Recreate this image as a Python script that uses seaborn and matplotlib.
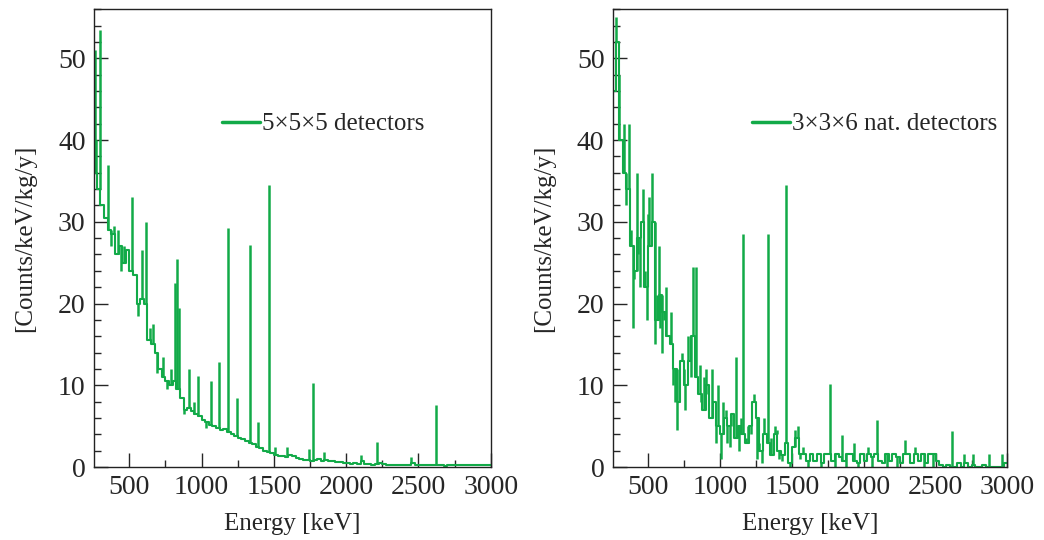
import numpy as np
import pandas as pd
import matplotlib
matplotlib.use("Agg")
import matplotlib.pyplot as plt
from matplotlib.ticker import MultipleLocator
import seaborn as sns

# 25 keV bins starting at 250 keV
bin_start = 250
bin_width = 25

# continuum, 5x5x5 detectors (counts/keV/kg/y)
cont_555 = [36, 34, 32, 30.5, 29, 28.5, 26, 27, 25, 26.5,
            24, 23.5, 20, 20.5, 20, 15.5, 15, 14, 12, 11,
            10.5, 10, 10.5, 9.5, 8.5, 7, 7.2, 6.8, 6.5, 6.2,
            5.8, 5.5, 5.2, 5.0, 4.8, 4.5, 4.6, 4.3, 4.0, 3.8,
            3.6, 3.4, 3.2, 3.0, 2.8, 2.5, 2.3, 2.0, 1.8, 1.7,
            1.5, 1.3, 1.3, 1.2, 1.5, 1.3, 1.1, 1.0, 0.9, 0.9,
            0.8, 0.9, 1.0, 0.8, 0.9, 0.7, 0.7, 0.6, 0.6, 0.5,
            0.5, 0.4, 0.5, 0.4, 0.8, 0.4, 0.4, 0.3, 0.4, 0.5,
            0.4, 0.3, 0.3, 0.3, 0.2, 0.3, 0.2, 0.3, 0.5, 0.2,
            0.2, 0.3, 0.2, 0.2, 0.3, 0.2, 0.2, 0.1, 0.2, 0.3,
            0.2, 0.2, 0.3, 0.2, 0.2, 0.3, 0.2, 0.2, 0.3, 0.2]

# narrow lines and fluctuations on top of it: energy (keV), height
peak_e_555 = [262, 270, 299, 354, 372, 395, 420, 440, 465, 521,
              560, 590, 618, 645, 666, 690, 735, 760, 790, 819,
              832, 846, 880, 916, 950, 978, 1030, 1067, 1123, 1184,
              1246, 1338, 1392, 1468, 1510, 1590, 1740, 1774, 1850, 2100,
              2210, 2450, 2619]
peak_h_555 = [51, 40, 53.5, 37, 27, 29.5, 29, 24, 27, 33,
              18.5, 26.5, 30, 17, 17.5, 11.5, 13.5, 9.5, 12, 22.5,
              25.5, 19.5, 6.5, 12, 8, 11.2, 4.8, 10.5, 12.8, 29.3,
              8.5, 27.2, 5.5, 34.5, 2.5, 2.4, 2.2, 10.3, 1.9, 1.5,
              3.1, 1.2, 7.6]

# continuum, 3x3x6 nat. detectors
cont_336 = [46, 52, 40, 36, 34, 27, 24, 28, 30, 22,
            27, 30, 18, 21, 19, 16, 15, 12, 8, 13,
            10, 13, 16, 11, 9, 7, 10, 6, 8, 5,
            4, 6, 5, 6.5, 3.5, 5, 4, 3, 5, 8,
            6, 2, 4, 3, 1.5, 4, 2, 1.5, 3, 0.5,
            2.5, 3.5, 1.6, 1.6, 0.8, 1.6, 0.8, 1.6, 0.5, 1.6,
            1.6, 0.8, 1.6, 1.2, 0.8, 1.6, 1.6, 0.8, 0.5, 1.6,
            0.8, 1.6, 1.2, 1.6, 0.8, 0.5, 1.6, 0.8, 1.6, 1.2,
            0.5, 1.6, 1.6, 0.5, 1.6, 0.8, 1.6, 0.5, 1.6, 1.6,
            0.8, 0.3, 0.0, 0.3, 0.0, 0.0, 0.5, 0.0, 0.5, 0.0,
            0.3, 0.0, 0.0, 0.3, 0.0, 0.0, 0.0, 0.0, 0.0, 0.5]

peak_e_336 = [277, 300, 330, 345, 365, 380, 395, 405, 420, 430,
              445, 455, 465, 480, 490, 500, 510, 528, 545, 560,
              575, 585, 595, 610, 625, 640, 660, 675, 690, 700,
              715, 735, 750, 760, 780, 800, 815, 835, 860, 870,
              890, 905, 920, 930, 945, 960, 975, 990, 1005, 1020,
              1040, 1050, 1070, 1090, 1110, 1130, 1150, 1163, 1180, 1195,
              1215, 1238, 1260, 1275, 1290, 1310, 1336, 1355, 1380, 1395,
              1410, 1430, 1461, 1490, 1520, 1545, 1555, 1580, 1610, 1700,
              1767, 1800, 1850, 1880, 1930, 1960, 2030, 2060, 2095, 2160,
              2230, 2290, 2360, 2420, 2480, 2617, 2700, 2760, 2870, 2960]
peak_h_336 = [55, 48, 42, 32, 42, 29, 17, 23, 36, 26,
              22, 30, 34, 24, 18, 31, 33, 36, 15, 21,
              27, 17, 14, 18, 22, 16, 19, 10, 8, 4.5,
              12, 14, 12, 7, 16, 11, 24.5, 24.5, 12.5, 8,
              11, 12, 9, 6, 12, 8, 3, 10, 1, 8,
              7, 3, 2.5, 5, 13.5, 2, 6, 28.5, 3.5, 5,
              4, 9, 1, 3, 0.5, 6, 28.5, 3.5, 5, 4.5,
              1, 0.8, 34.5, 0, 4.5, 5, 1, 2.5, 0, 0,
              10.2, 0, 3.9, 0, 3, 0, 2.5, 0, 5.8, 0,
              0, 3.3, 2.5, 0, 0, 4.4, 1.6, 1.6, 1.6, 1.6]

green = "#12aa48"

sns.set_style("ticks")
plt.rcParams["font.family"] = ["Liberation Serif", "DejaVu Serif"]


def draw_panel(ax, cont, pe, ph, label, leg_x):
    edges = bin_start + bin_width * np.arange(len(cont) + 1)
    df = pd.DataFrame({"E": edges, "y": list(cont) + [cont[-1]]})
    sns.lineplot(data=df, x="E", y="y", ax=ax, color=green, lw=1.5,
                 drawstyle="steps-post", label=label)
    idx = np.clip(np.searchsorted(edges, pe, side="right") - 1, 0, len(cont) - 1)
    base = np.asarray(cont)[idx]
    ax.vlines(pe, base, ph, color=green, lw=1.8)

    ax.set_xlim(255, 3000)
    ax.set_ylim(0, 56)
    ax.xaxis.set_major_locator(MultipleLocator(500))
    ax.xaxis.set_minor_locator(MultipleLocator(250))
    ax.yaxis.set_major_locator(MultipleLocator(10))
    ax.yaxis.set_minor_locator(MultipleLocator(2))
    ax.tick_params(which="both", direction="in", top=False, right=False,
                   labelsize=20, width=1)
    ax.tick_params(which="major", length=10, pad=6)
    ax.tick_params(which="minor", length=5)
    for s in ax.spines.values():
        s.set_visible(True)
        s.set_linewidth(1.0)
        s.set_color("#222222")
    ax.set_xlabel("Energy [keV]", fontsize=18, labelpad=9)
    ax.set_ylabel("[Counts/keV/kg/y]", fontsize=18, labelpad=16)
    leg = ax.legend(loc="center left", bbox_to_anchor=(leg_x, 0.749),
                    frameon=False, fontsize=18, handlelength=1.55,
                    handletextpad=0.05, borderpad=0, borderaxespad=0)
    for h in leg.get_lines():
        h.set_linewidth(2.5)


fig = plt.figure(figsize=(10.44, 5.4), dpi=100)
ax1 = fig.add_axes([0.090, 0.135, 0.380, 0.848])
ax2 = fig.add_axes([0.587, 0.135, 0.378, 0.848])

draw_panel(ax1, cont_555, peak_e_555, peak_h_555, "5×5×5 detectors", 0.322)
draw_panel(ax2, cont_336, peak_e_336, peak_h_336, "3×3×6 nat. detectors", 0.352)

fig.savefig("out.png", dpi=100)
